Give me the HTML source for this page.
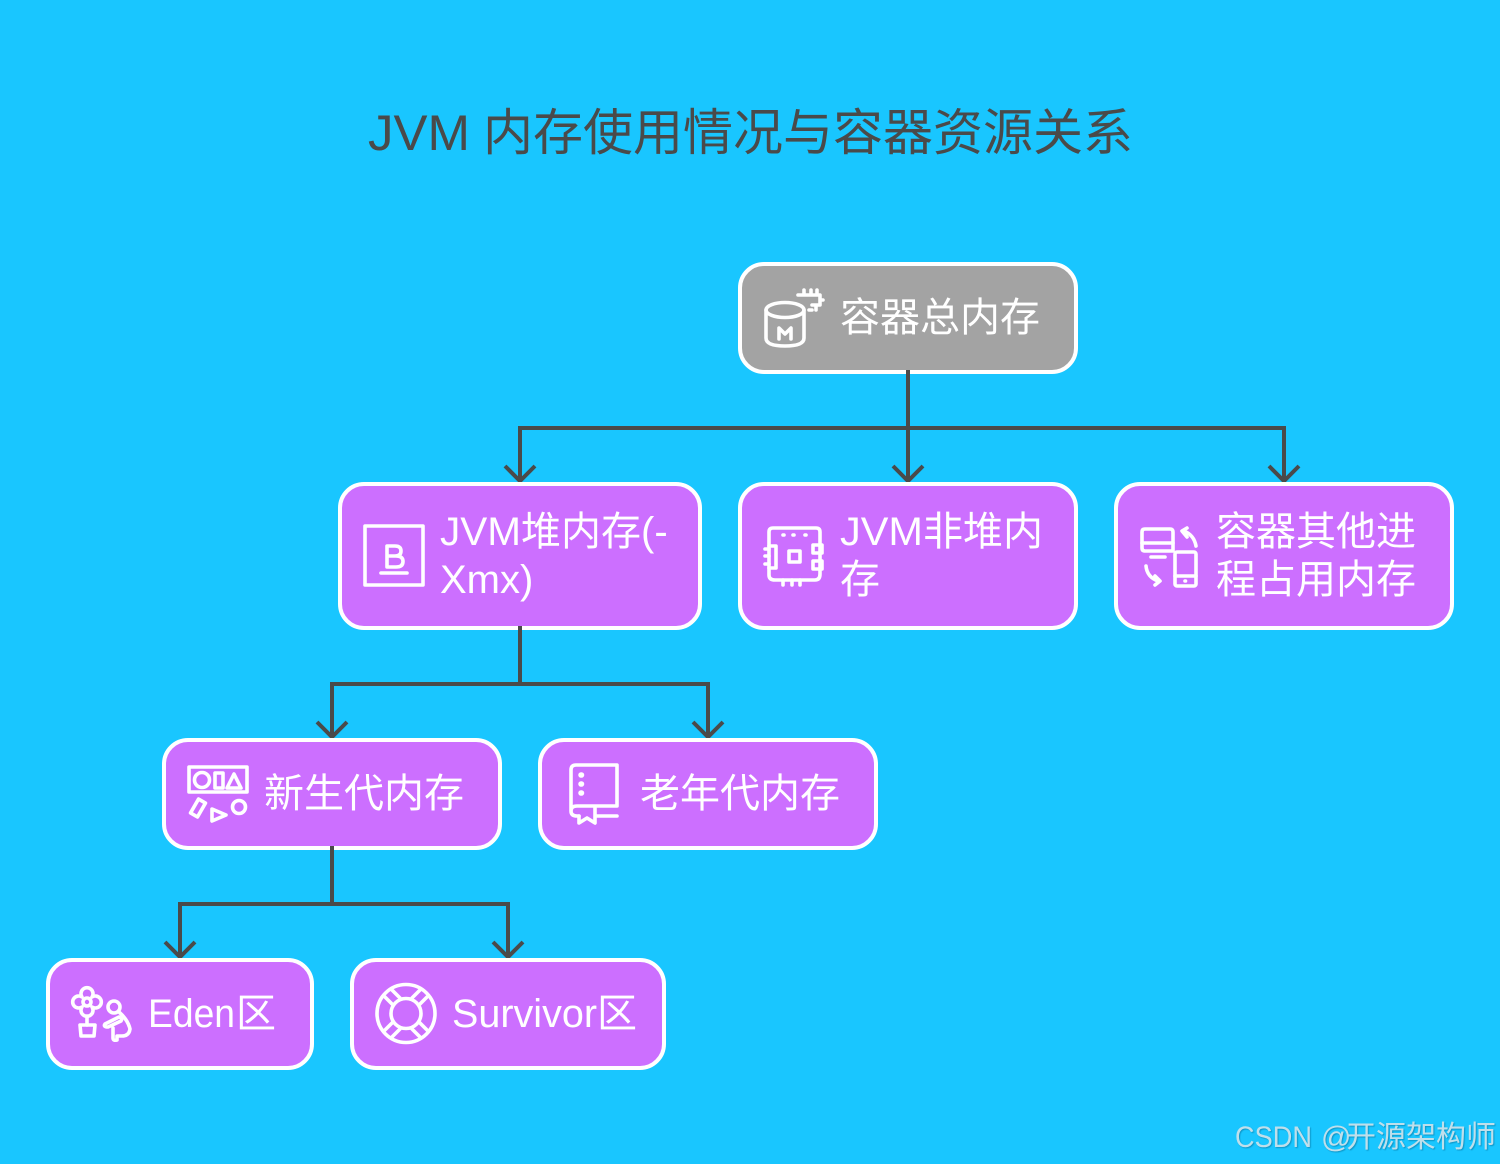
<!DOCTYPE html>
<html><head><meta charset="utf-8"><style>
html,body{margin:0;padding:0;background:#19c6ff}
svg{display:block}
text{font-family:"Liberation Sans","Noto Sans CJK SC",sans-serif;font-size:40px;fill:#fff}
.box{stroke:#fff;stroke-width:4}
.p{fill:#cc6fff}
.l{fill:none;stroke:#4a4a4a;stroke-width:4}
.i{fill:none;stroke:#fff;stroke-width:3.6;stroke-linecap:round;stroke-linejoin:round}
.w{font-size:30px;fill:#bfdfeb;filter:drop-shadow(1px 1px 0.6px rgba(0,90,130,.45))}
</style></head><body>
<svg width="1500" height="1164" viewBox="0 0 1500 1164" xmlns="http://www.w3.org/2000/svg">
<rect width="1500" height="1164" fill="#19c6ff"/>
<text y="150" style="font-size:50px;fill:#4a4a4a"><tspan x="368" textLength="102" lengthAdjust="spacingAndGlyphs">JVM</tspan><tspan x="483">内存使用情况与容器资源关系</tspan></text>

<path class="l" d="M908 428H520V482M908 428H1284V482M908 428V482"/>
<path class="l" d="M505 466L520 481L535 466M893 466L908 481L923 466M1269 466L1284 481L1299 466"/>
<path class="l" d="M520 684H332V738M520 684H708V738"/>
<path class="l" d="M317 722L332 737L347 722M693 722L708 737L723 722"/>
<path class="l" d="M332 904H180V958M332 904H508V958"/>
<path class="l" d="M165 942L180 957L195 942M493 942L508 957L523 942"/>

<rect class="box" x="740" y="264" width="336" height="108" rx="24" fill="#a3a3a3"/>
<rect class="box p" x="340" y="484" width="360" height="144" rx="24"/>
<rect class="box p" x="740" y="484" width="336" height="144" rx="24"/>
<rect class="box p" x="1116" y="484" width="336" height="144" rx="24"/>
<rect class="box p" x="164" y="740" width="336" height="108" rx="24"/>
<rect class="box p" x="540" y="740" width="336" height="108" rx="24"/>
<rect class="box p" x="48" y="960" width="264" height="108" rx="24"/>
<rect class="box p" x="352" y="960" width="312" height="108" rx="24"/>

<path class="l" d="M908 370V428M520 626V684M332 846V904"/>

<text x="840" y="331">容器总内存</text>
<text x="440" y="545"><tspan textLength="81" lengthAdjust="spacingAndGlyphs">JVM</tspan><tspan x="521">堆内存(-</tspan></text>
<text x="440" y="593">Xmx)</text>
<text x="840" y="545"><tspan textLength="83" lengthAdjust="spacingAndGlyphs">JVM</tspan><tspan x="923">非堆内</tspan></text>
<text x="840" y="593">存</text>
<text x="1216" y="545">容器其他进</text>
<text x="1216" y="593">程占用内存</text>
<text x="264" y="807">新生代内存</text>
<text x="640" y="807">老年代内存</text>
<text y="1027"><tspan x="148" textLength="87" lengthAdjust="spacingAndGlyphs">Eden</tspan><tspan x="236">区</tspan></text>
<text y="1027"><tspan x="452" textLength="145" lengthAdjust="spacingAndGlyphs">Survivor</tspan><tspan x="597">区</tspan></text>

<!-- root icon -->
<g class="i">
<path d="M766 310V338Q766 346 785 346Q804 346 804 338V310"/>
<ellipse cx="785" cy="310" rx="19" ry="7.5"/>
<path d="M779 339V328L785 334L791 328V339"/>
<path d="M798 295H820V305H812M804 295V290M811 295V290M817 295V290M820 300H823M816 305V310M809 310H812"/>
</g>
<!-- B icon -->
<g class="i">
<rect x="365" y="526" width="58" height="59"/>
<path d="M381 573H407"/>
<path d="M387 546H395Q401 546 401 551Q401 556 395 556H387ZM387 556H396Q403 556 403 561.500Q403 567 396 567H387Z"/>
</g>
<!-- chip icon -->
<g class="i">
<path d="M769 532Q769 528 773 528H816Q820 528 820 532V574Q820 580 815 580H775Q769 580 769 575Z"/>
<path d="M769 546H776V568H769"/>
<rect x="789" y="551" width="11" height="11"/>
<rect x="813" y="545" width="9" height="8"/>
<rect x="813" y="561" width="9" height="8"/>
<path d="M765 549H769M765 556H769M765 564H769M783 580V585M792 580V585M800 580V585"/>
<path d="M783 535H784M793 535H794M805 535H806"/>
</g>
<!-- devices icon -->
<g class="i">
<path d="M1142 532Q1142 529 1145 529H1170Q1173 529 1173 532V551H1145Q1142 551 1142 548Z"/>
<path d="M1142 543H1173M1151 557H1165"/>
<rect x="1175" y="552" width="21" height="34" rx="2"/>
<path d="M1175 576H1196"/>
<path d="M1185 581H1185.500"/>
<path d="M1196 546Q1194 535 1184 531M1187 528L1182 531L1187 537"/>
<path d="M1146 566Q1147 577 1158 581M1155 585L1160 581L1155 576"/>
</g>
<!-- shapes icon -->
<g class="i">
<rect x="189" y="767" width="58" height="25"/>
<circle cx="202" cy="780" r="7.500"/>
<rect x="215" y="773" width="8" height="15"/>
<path d="M227 788L234 774L241 788Z"/>
<rect x="194" y="800" width="8" height="16" transform="rotate(30 198 808)"/>
<path d="M212 809L226 815L212 821Z"/>
<circle cx="239" cy="807" r="6.500"/>
</g>
<!-- book icon -->
<g class="i">
<path d="M571 811V770Q571 765 576 765H617V806H577Q571 806 571 811Q571 816 577 816H579M596 816H617"/>
<path d="M579 816V823L587 818L595 823V808"/>
<path d="M581 775H581.500M581 784H581.500M581 793H581.500" stroke-width="5.500"/>
</g>
<!-- flower icon -->
<g class="i">
<circle cx="87" cy="1002" r="4"/>
<path d="M82 997A6 6 0 1 1 92 997A6 6 0 1 1 92 1007A6 6 0 1 1 82 1007A6 6 0 1 1 82 997Z"/>
<path d="M87 1016V1025"/>
<path d="M80 1025H95L94 1036H81Z"/>
<circle cx="114" cy="1007" r="6"/>
<path d="M119 1012Q128 1020 130 1029Q129 1036 122 1036H117V1040Q113 1041 113 1038V1028"/>
<path d="M105 1024L119 1017Q123 1018 121 1021L108 1027Q103 1027 105 1024Z"/>
</g>
<!-- lifebuoy icon -->
<g class="i">
<circle cx="406" cy="1013.500" r="29"/>
<circle cx="406" cy="1013.500" r="15"/>
<path d="M385 997L393 1005M392 990L400 998M427 997L419 1005M420 990L412 998M385 1030L393 1022M392 1037L400 1029M427 1030L419 1022M420 1037L412 1029"/>
</g>

<text class="w" y="1147"><tspan x="1235" textLength="77" lengthAdjust="spacingAndGlyphs">CSDN</tspan><tspan x="1321">@</tspan><tspan x="1346">开源架构师</tspan></text>
</svg>
</body></html>
